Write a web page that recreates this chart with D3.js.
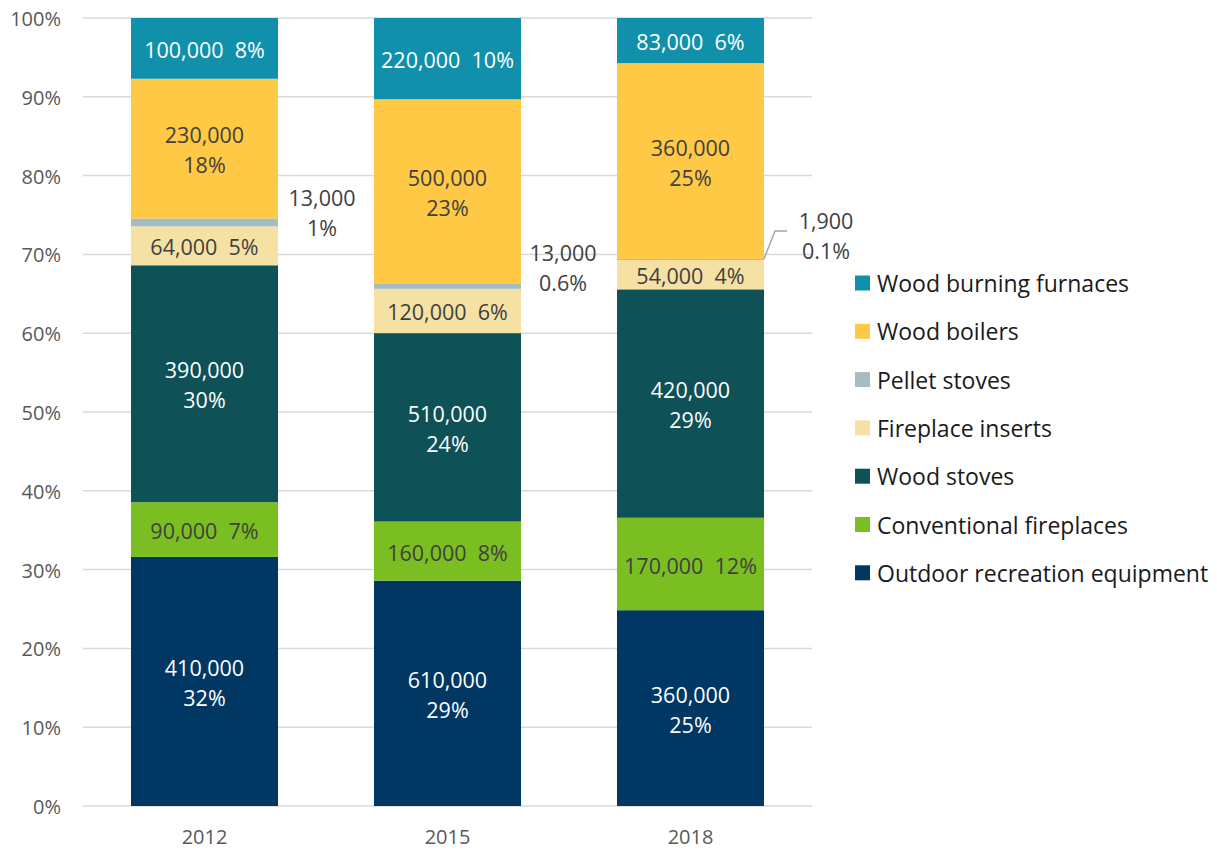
<!DOCTYPE html>
<html>
<head>
<meta charset="utf-8">
<script src="https://cdn.jsdelivr.net/npm/d3@7"></script>
<style>
  body { margin: 0; background: #fff; }
  text { font-family: "Open Sans", sans-serif; }
</style>
</head>
<body>
<script>
// years and series (bottom to top)
const years = ['2012', '2015', '2018'];
const seriesNames = ['Outdoor recreation equipment', 'Conventional fireplaces', 'Wood stoves',
  'Fireplace inserts', 'Pellet stoves', 'Wood boilers', 'Wood burning furnaces'];
const colors = ['#003763', '#7bbe22', '#0e5157', '#f6e1a4', '#a5bcc4', '#ffc845', '#1190ac'];

// counts per series, one entry per year
const outdoor = [410000, 610000, 360000];
const conventional = [90000, 160000, 170000];
const woodStoves = [390000, 510000, 420000];
const inserts = [64000, 120000, 54000];
const pellet = [13000, 13000, 1900];
const boilers = [230000, 500000, 360000];
const furnaces = [100000, 220000, 83000];

// label text as printed
const countLabels = [
  ['410,000', '610,000', '360,000'],
  ['90,000', '160,000', '170,000'],
  ['390,000', '510,000', '420,000'],
  ['64,000', '120,000', '54,000'],
  ['13,000', '13,000', '1,900'],
  ['230,000', '500,000', '360,000'],
  ['100,000', '220,000', '83,000']
];
const pctLabels = [
  ['32%', '29%', '25%'],
  ['7%', '8%', '12%'],
  ['30%', '24%', '29%'],
  ['5%', '6%', '4%'],
  ['1%', '0.6%', '0.1%'],
  ['18%', '23%', '25%'],
  ['8%', '10%', '6%']
];
const yTicks = [0, 0.1, 0.2, 0.3, 0.4, 0.5, 0.6, 0.7, 0.8, 0.9, 1];

const allSeries = [outdoor, conventional, woodStoves, inserts, pellet, boilers, furnaces];

const width = 1217, height = 850;
const svg = d3.select('body').append('svg')
  .attr('width', width).attr('height', height);

const x = d3.scaleBand().domain(years).range([83, 812]).paddingInner(0.395).paddingOuter(0.1975);
const y = d3.scaleLinear().domain([0, 1]).range([806, 18]);

// build the rows for d3.stack
const table = years.map((yr, i) => {
  const row = { year: yr };
  const total = d3.sum(allSeries, s => s[i]);
  seriesNames.forEach((n, k) => row[n] = allSeries[k][i] / total);
  return row;
});
const stacked = d3.stack().keys(seriesNames)(table);

// gridlines
svg.append('g').selectAll('line').data(yTicks).join('line')
  .attr('x1', 83).attr('x2', 812)
  .attr('y1', d => y(d)).attr('y2', d => y(d))
  .attr('stroke', '#d9d9d9').attr('stroke-width', 1.5);

// y labels
svg.append('g').selectAll('text').data(yTicks).join('text')
  .attr('x', 61).attr('y', d => y(d) + 1).attr('dy', '0.35em')
  .attr('text-anchor', 'end').attr('font-size', 20).attr('fill', '#595959')
  .text(d => d3.format('.0%')(d));

// x labels
svg.append('g').selectAll('text').data(years).join('text')
  .attr('x', d => x(d) + x.bandwidth() / 2).attr('y', 837).attr('dy', '0.35em')
  .attr('text-anchor', 'middle').attr('font-size', 20).attr('fill', '#595959')
  .text(d => d);

// bars
const darkText = [true, false, true, false, false, false, true]; // white text on these
stacked.forEach((layer, k) => {
  svg.append('g').selectAll('rect').data(layer).join('rect')
    .attr('x', d => x(d.data.year))
    .attr('width', x.bandwidth())
    .attr('y', d => y(d[1]))
    .attr('height', d => y(d[0]) - y(d[1]))
    .attr('fill', colors[k]);
});

// in-bar labels
const twoLine = [true, false, true, false, null, true, false];
stacked.forEach((layer, k) => {
  if (twoLine[k] === null) return;
  layer.forEach((d, i) => {
    const cx = x(d.data.year) + x.bandwidth() / 2;
    const cy = (y(d[0]) + y(d[1])) / 2 + 2;
    const fill = darkText[k] ? '#ffffff' : '#404040';
    const t = svg.append('text').attr('text-anchor', 'middle')
      .attr('font-size', 21.5).attr('fill', fill);
    if (twoLine[k]) {
      t.append('tspan').attr('x', cx).attr('y', cy - 15).attr('dy', '0.35em').text(countLabels[k][i]);
      t.append('tspan').attr('x', cx).attr('y', cy + 15).attr('dy', '0.35em').text(pctLabels[k][i]);
    } else {
      t.attr('x', cx).attr('y', cy).attr('dy', '0.35em')
        .text(countLabels[k][i] + '\u00a0\u00a0' + pctLabels[k][i]);
    }
  });
});

// pellet stove labels sit outside the bars
const pelletLayer = stacked[4];
const outsideOffsets = [[44, -24], [42, -33], [null, -38]];
pelletLayer.forEach((d, i) => {
  const right = x(d.data.year) + x.bandwidth();
  const cy = (y(d[0]) + y(d[1])) / 2;
  const off = outsideOffsets[i];
  let tx;
  if (off[0] === null) {
    // leader line for the tiny 2018 slice
    const top = y(d[1]);
    svg.append('path')
      .attr('d', `M${right},${top} L${right + 11},${top - 28} L${right + 23},${top - 28}`)
      .attr('fill', 'none').attr('stroke', '#a6a6a6').attr('stroke-width', 1.5);
    tx = right + 62;
  } else {
    tx = right + off[0];
  }
  const t = svg.append('text').attr('text-anchor', 'middle')
    .attr('font-size', 21.5).attr('fill', '#404040');
  t.append('tspan').attr('x', tx).attr('y', cy + off[1]).attr('dy', '0.35em').text(countLabels[4][i]);
  t.append('tspan').attr('x', tx).attr('y', cy + off[1] + 30).attr('dy', '0.35em').text(pctLabels[4][i]);
});

// legend, top item is the top series
const legendOrder = d3.range(seriesNames.length).reverse();
const legend = svg.append('g').selectAll('g').data(legendOrder).join('g')
  .attr('transform', (d, i) => `translate(855, ${283 + i * 48.3})`);
legend.append('rect').attr('x', 0).attr('y', -7.5).attr('width', 15).attr('height', 15)
  .attr('fill', d => colors[d]);
legend.append('text').attr('x', 22).attr('y', 1).attr('dy', '0.35em')
  .attr('font-size', 23).attr('fill', '#1a1a1a')
  .text(d => seriesNames[d]);
</script>
</body>
</html>
